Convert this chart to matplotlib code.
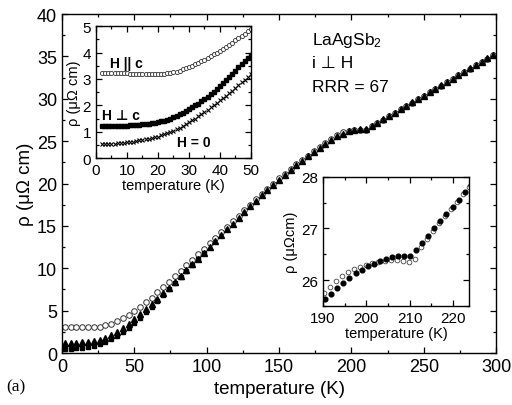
import numpy as np
import matplotlib
matplotlib.use("Agg")
import matplotlib.pyplot as plt
from matplotlib.ticker import MultipleLocator

plt.rcParams['font.family'] = ['Liberation Sans', 'DejaVu Sans']
plt.rcParams['mathtext.fontset'] = 'custom'
plt.rcParams['mathtext.rm'] = 'Liberation Sans'
plt.rcParams['mathtext.it'] = 'Liberation Sans:italic'

# ---- main panel: resistivity vs temperature, 2 K .. 298 K in 4 K steps ----
T_main = np.arange(2, 300, 4)
rho_par_main = [3.05, 3.05, 3.05, 3.05, 3.05, 3.06, 3.1, 3.25, 3.45, 3.75,
                4.1, 4.5, 4.95, 5.45, 6.0, 6.55, 7.15, 7.75, 8.4, 9.05,
                9.7, 10.35, 11.0, 11.65, 12.3, 12.95, 13.6, 14.25, 14.9, 15.55,
                16.2, 16.85, 17.5, 18.15, 18.8, 19.4, 20.0, 20.6, 21.15, 21.7,
                22.25, 22.8, 23.3, 23.8, 24.3, 24.75, 25.2, 25.7, 26.05, 26.25,
                26.33, 26.37, 26.37, 26.75, 27.15, 27.55, 27.95, 28.35, 28.75, 29.15,
                29.55, 29.95, 30.35, 30.75, 31.15, 31.55, 31.95, 32.35, 32.75, 33.15,
                33.55, 33.95, 34.35, 34.75, 35.15]
rho_perp_main = [1.22, 1.22, 1.23, 1.26, 1.31, 1.4, 1.55, 1.8, 2.1, 2.5,
                 2.95, 3.45, 4.0, 4.55, 5.15, 5.75, 6.4, 7.05, 7.7, 8.4,
                 9.1, 9.8, 10.5, 11.15, 11.85, 12.55, 13.2, 13.9, 14.6, 15.25,
                 15.95, 16.6, 17.3, 17.95, 18.6, 19.25, 19.85, 20.45, 21.05, 21.6,
                 22.15, 22.7, 23.2, 23.7, 24.2, 24.7, 25.15, 25.6, 25.9, 26.15,
                 26.3, 26.42, 26.46, 26.78, 27.18, 27.58, 27.98, 28.38, 28.78, 29.18,
                 29.58, 29.98, 30.38, 30.78, 31.18, 31.58, 31.98, 32.38, 32.78, 33.18,
                 33.58, 33.98, 34.38, 34.78, 35.18]
# zero-field data up to 98 K (above that it lies under the H perp c curve)
rho_zero_main = [0.5, 0.52, 0.56, 0.62, 0.72, 0.86, 1.05, 1.3, 1.6, 1.98,
                 2.45, 2.98, 3.55, 4.15, 4.8, 5.45, 6.15, 6.85, 7.55, 8.25,
                 8.95, 9.65, 10.35, 11.05, 11.75]

# ---- low temperature inset, 2 K .. 50 K ----
T_low = np.arange(2, 51, 1)
rho_par_low = [3.21, 3.21, 3.21, 3.21, 3.21, 3.21, 3.21, 3.21, 3.21, 3.2,
               3.2, 3.2, 3.2, 3.2, 3.2, 3.2, 3.2, 3.2, 3.2, 3.2,
               3.2, 3.21, 3.23, 3.25, 3.28, 3.32, 3.36, 3.41, 3.46, 3.51,
               3.56, 3.61, 3.67, 3.73, 3.79, 3.86, 3.93, 4.0, 4.07, 4.14,
               4.22, 4.3, 4.38, 4.46, 4.54, 4.63, 4.72, 4.81, 4.9]
rho_perp_low = [1.22, 1.22, 1.22, 1.22, 1.22, 1.22, 1.22, 1.23, 1.23, 1.24,
                1.25, 1.26, 1.27, 1.28, 1.29, 1.3, 1.32, 1.34, 1.36, 1.39,
                1.42, 1.46, 1.5, 1.55, 1.6, 1.66, 1.72, 1.79, 1.86, 1.93,
                2.0, 2.07, 2.15, 2.23, 2.32, 2.42, 2.52, 2.62, 2.73, 2.84,
                2.96, 3.08, 3.2, 3.32, 3.44, 3.56, 3.68, 3.8, 3.92]
rho_zero_low = [0.53, 0.53, 0.54, 0.54, 0.55, 0.56, 0.57, 0.58, 0.6, 0.61,
                0.63, 0.65, 0.67, 0.69, 0.71, 0.73, 0.76, 0.79, 0.82, 0.86,
                0.9, 0.94, 0.99, 1.04, 1.1, 1.16, 1.22, 1.29, 1.36, 1.43,
                1.5, 1.58, 1.66, 1.74, 1.83, 1.92, 2.01, 2.1, 2.19, 2.28,
                2.37, 2.46, 2.56, 2.66, 2.76, 2.87, 2.98, 3.09, 3.2]

# ---- transition inset, 190 K .. 224 K ----
T_tr_filled = np.round(np.arange(190.5, 224.2, 1.4), 1)
rho_tr_filled = [25.63, 25.74, 25.85, 25.95, 26.05, 26.13, 26.2, 26.27, 26.32, 26.37,
                 26.41, 26.44, 26.46, 26.47, 26.47, 26.58, 26.72, 26.86, 27.0, 27.14,
                 27.28, 27.42, 27.56, 27.7, 27.84]
T_tr_open = np.round(np.arange(190.2, 223.9, 1.4), 1)
rho_tr_open = [25.75, 25.87, 25.98, 26.07, 26.15, 26.21, 26.26, 26.3, 26.33, 26.35,
               26.37, 26.38, 26.38, 26.37, 26.36, 26.4, 26.65, 26.8, 26.95, 27.1,
               27.24, 27.38, 27.52, 27.66, 27.8]


def style_axes(ax, fs):
    ax.tick_params(which='both', direction='in', top=True, right=True,
                   labelsize=fs, width=0.9)
    ax.tick_params(which='major', length=4.5)
    ax.tick_params(which='minor', length=2.5)
    for sp in ax.spines.values():
        sp.set_linewidth(1.0)


fig = plt.figure(figsize=(5.12, 4.06), dpi=100)

ax = fig.add_axes([0.121, 0.128, 0.848, 0.835])
ax.plot(T_main, rho_par_main, 'o', ms=4.0, mfc='white', mec='#333333', mew=0.7)
ax.plot(T_main[:len(rho_zero_main)], rho_zero_main, 's', ms=3.4, color='black')
ax.plot(T_main, rho_perp_main, '^', ms=4.6, color='black')
ax.set_xlim(0, 300)
ax.set_ylim(0, 40)
ax.xaxis.set_major_locator(MultipleLocator(50))
ax.xaxis.set_minor_locator(MultipleLocator(25))
ax.yaxis.set_major_locator(MultipleLocator(5))
ax.yaxis.set_minor_locator(MultipleLocator(2.5))
style_axes(ax, 13)
ax.set_xlabel('temperature (K)', fontsize=13.5, labelpad=4)
ax.set_ylabel('ρ (μΩ cm)', fontsize=13.5, labelpad=2)

ax.text(0.575, 0.925, 'LaAgSb$_\\mathregular{2}$', transform=ax.transAxes,
        fontsize=12.5, va='center')
ax.text(0.575, 0.858, 'i ⊥ H', transform=ax.transAxes, fontsize=12.5, va='center')
ax.text(0.575, 0.787, 'RRR = 67', transform=ax.transAxes, fontsize=12.5, va='center')
fig.text(0.012, 0.035, '(a)', family=['Liberation Serif', 'DejaVu Serif'],
         fontsize=12.5)

# low temperature inset
ax1 = fig.add_axes([0.1875, 0.608, 0.3025, 0.325])
ax1.plot(T_low, rho_par_low, 'o', ms=3.0, mfc='white', mec='#333333', mew=0.6)
ax1.plot(T_low, rho_perp_low, 's', ms=3.0, color='black')
ax1.plot(T_low, rho_zero_low, 'x', ms=3.2, color='black', mew=0.8)
ax1.set_xlim(0, 50)
ax1.set_ylim(0, 5)
ax1.xaxis.set_major_locator(MultipleLocator(10))
ax1.xaxis.set_minor_locator(MultipleLocator(5))
ax1.yaxis.set_major_locator(MultipleLocator(1))
ax1.yaxis.set_minor_locator(MultipleLocator(0.5))
style_axes(ax1, 11)
ax1.set_xlabel('temperature (K)', fontsize=10.5, labelpad=1)
ax1.set_ylabel('ρ (μΩ cm)', fontsize=10.5, labelpad=1)
ax1.text(4.5, 3.6, 'H || c', fontsize=10, fontweight='bold', va='center')
ax1.text(2, 1.62, 'H ⊥ c', fontsize=10, fontweight='bold', va='center')
ax1.text(26, 0.62, 'H = 0', fontsize=10, fontweight='bold', va='center')

# transition inset
ax2 = fig.add_axes([0.631, 0.244, 0.285, 0.318])
ax2.plot(T_tr_open, rho_tr_open, 'o', ms=3.4, mfc='white', mec='#444444', mew=0.6)
ax2.plot(T_tr_filled, rho_tr_filled, 'o', ms=3.4, color='black')
ax2.set_xlim(190, 223.7)
ax2.set_ylim(25.5, 28)
ax2.xaxis.set_major_locator(MultipleLocator(10))
ax2.xaxis.set_minor_locator(MultipleLocator(5))
ax2.yaxis.set_major_locator(MultipleLocator(1))
ax2.yaxis.set_minor_locator(MultipleLocator(0.5))
style_axes(ax2, 11)
ax2.set_xlabel('temperature (K)', fontsize=10.5, labelpad=1)
ax2.set_ylabel('ρ (μΩcm)', fontsize=10.5, labelpad=2)

fig.savefig('out.png', dpi=100)
